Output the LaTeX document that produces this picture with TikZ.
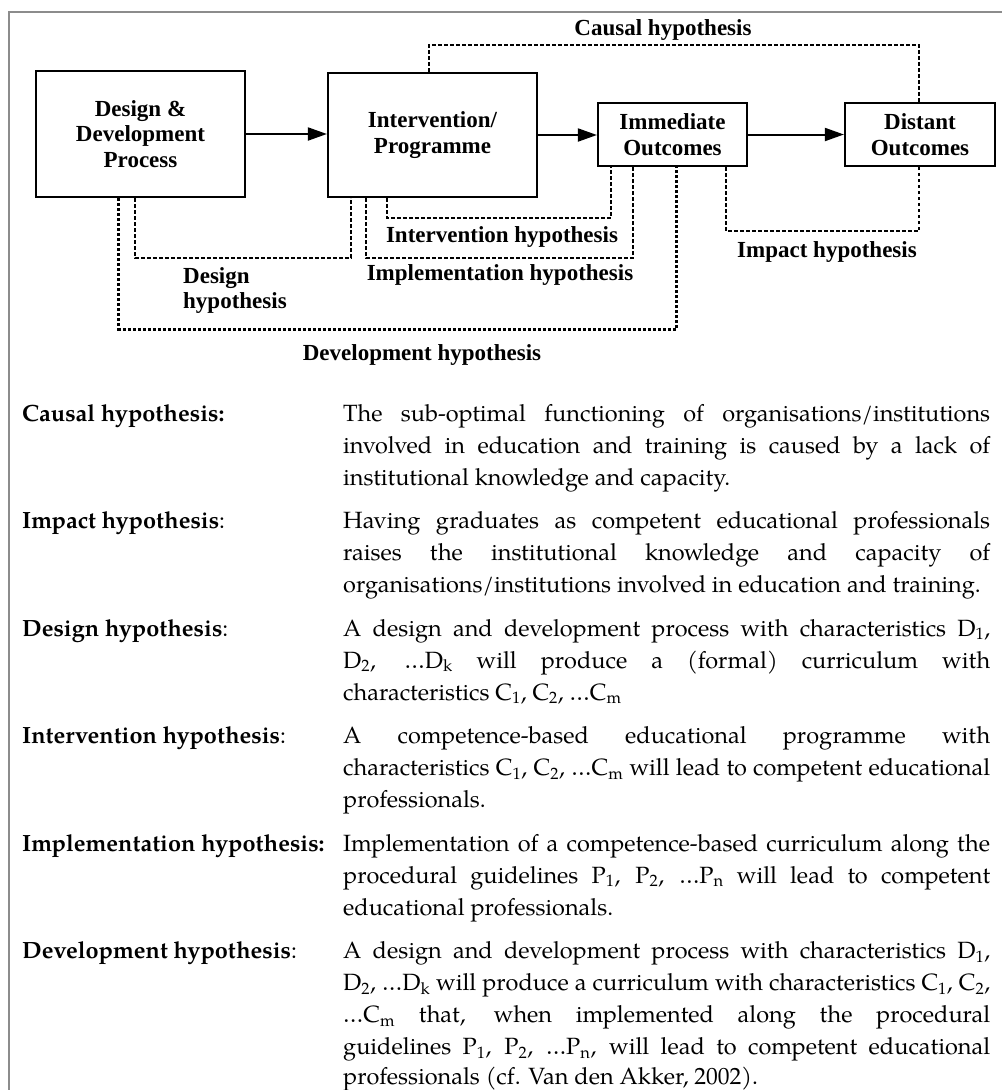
\documentclass[tikz,border=0pt]{standalone}
\usepackage{fontspec}
\usetikzlibrary{arrows.meta,calc}
\newfontfamily\dfont{Liberation Serif}
\newfontfamily\pfont{TeX Gyre Pagella}
\newcommand\jusline[1]{\makebox[647pt][s]{#1}}
\newcommand\sbs[1]{\textsubscript{#1}}
\begin{document}
\begin{tikzpicture}[x=1pt,y=-1pt,
  box/.style={draw, line width=2.2pt, inner sep=0pt, align=center, font=\dfont\bfseries\fontsize{23}{25.5}\selectfont},
  lab/.style={inner sep=0pt, font=\dfont\bfseries\fontsize{23}{25.5}\selectfont},
  hyp/.style={line width=2pt, dash pattern=on 3.7pt off 2.3pt},
  devhyp/.style={line width=3pt, dash pattern=on 3pt off 2pt},
  arr/.style={line width=2pt, -{Triangle[length=19pt,width=13pt]}},
  desc/.style={inner sep=0pt, anchor=base west, font=\pfont\fontsize{23.5}{32}\selectfont},
  dlab/.style={inner sep=0pt, anchor=base west, font=\pfont\bfseries\fontsize{23.5}{32}\selectfont},
  frame/.style={draw=black!45, line width=1.5pt}
]
\useasboundingbox (0,0) rectangle (1002,1090);
\fill[white] (0,0) rectangle (1002,1090);
\draw[frame] (9,1090) -- (9,12) -- (1002,12);

% boxes
\node[box, minimum width=209pt, minimum height=126pt] (b1) at (140.5,134) {Design \&\\Development\\Process};
\node[box, minimum width=209pt, minimum height=124pt] (b2) at (432.5,135) {Intervention/\\Programme};
\node[box, minimum width=149pt, minimum height=63pt] (b3) at (672.5,134.5) {Immediate\\Outcomes};
\node[box, minimum width=150pt, minimum height=63pt] (b4) at (920,134.5) {Distant\\Outcomes};

% arrows
\draw[arr] (b1.east) -- (b1.east -| b2.west);
\draw[arr] (b2.east) -- (b2.east -| b3.west);
\draw[arr] (b3.east) -- (b4.west);

% hypothesis connectors
\draw[hyp] ($(b1.south west)+(100,0)$) |- ($(b2.south west)+(24,60)$) -- ($(b2.south west)+(24,0)$);
\draw[hyp] ($(b2.south west)+(39,0)$) |- ($(b3.south west)+(36,91)$) -- ($(b3.south west)+(36,0)$);
\draw[hyp] ($(b2.south west)+(60,0)$) |- ($(b3.south west)+(14,51)$) -- ($(b3.south west)+(14,0)$);
\draw[devhyp] ($(b1.south west)+(84,0)$) |- ($(b3.south west)+(80,162)$) -- ($(b3.south west)+(80,0)$);
\draw[hyp] ($(b3.south west)+(129,0)$) |- ($(b4.south)+(-1,64)$) -- ($(b4.south)+(-1,0)$);
\draw[hyp] ($(b2.north west)+(102,0)$) |- ($(b4.north)+(-1,-57)$) -- ($(b4.north)+(-1,0)$);

% diagram labels
\node[lab, anchor=base] (lc) at (663,35) {Causal hypothesis};
\node[lab, anchor=base] (li) at (502,242) {Intervention hypothesis};
\node[lab, anchor=base] (lm) at (500,280) {Implementation hypothesis};
\node[lab, anchor=base] (lp) at (827,257) {Impact hypothesis};
\node[lab, anchor=base west] (ld1) at (183,283) {Design};
\node[lab, anchor=base west] (ld2) at (183,308) {hypothesis};
\node[lab, anchor=base] (lv) at (422,360) {Development hypothesis};

% text list
\node[dlab] (h1) at (22,421) {Causal hypothesis:};
\node[desc] (t11) at (343,421) {\jusline{The sub-optimal functioning of organisations/institutions}};
\node[desc] (t12) at (343,453) {\jusline{involved in education and training is caused by a lack of}};
\node[desc] (t13) at (343,485) {institutional knowledge and capacity.};

\node[dlab] (h2) at (22,528.5) {Impact hypothesis{\mdseries:}};
\node[desc] (t21) at (343,528.5) {\jusline{Having graduates as competent educational professionals}};
\node[desc] (t22) at (343,560.5) {\jusline{raises the institutional knowledge and capacity of}};
\node[desc] (t23) at (343,592.5) {organisations/institutions involved in education and training.};

\node[dlab] (h3) at (22,636) {Design hypothesis{\mdseries:}};
\node[desc] (t31) at (343,636) {\jusline{A design and development process with characteristics D\sbs{1},}};
\node[desc] (t32) at (343,668) {\jusline{D\sbs{2}, …D\sbs{k} will produce a (formal) curriculum with}};
\node[desc] (t33) at (343,700) {characteristics C\sbs{1}, C\sbs{2}, …C\sbs{m}};

\node[dlab] (h4) at (22,743.5) {Intervention hypothesis{\mdseries:}};
\node[desc] (t41) at (343,743.5) {\jusline{A competence-based educational programme with}};
\node[desc] (t42) at (343,775.5) {\jusline{characteristics C\sbs{1}, C\sbs{2}, …C\sbs{m} will lead to competent educational}};
\node[desc] (t43) at (343,807.5) {professionals.};

\node[dlab] (h5) at (22,851) {Implementation hypothesis:};
\node[desc] (t51) at (343,851) {\jusline{Implementation of a competence-based curriculum along the}};
\node[desc] (t52) at (343,883) {\jusline{procedural guidelines P\sbs{1}, P\sbs{2}, …P\sbs{n} will lead to competent}};
\node[desc] (t53) at (343,915) {educational professionals.};

\node[dlab] (h6) at (22,958.5) {Development hypothesis{\mdseries:}};
\node[desc] (t61) at (343,958.5) {\jusline{A design and development process with characteristics D\sbs{1},}};
\node[desc] (t62) at (343,990.5) {\jusline{D\sbs{2}, …D\sbs{k} will produce a curriculum with characteristics C\sbs{1}, C\sbs{2},}};
\node[desc] (t63) at (343,1022.5) {\jusline{…C\sbs{m} that, when implemented along the procedural}};
\node[desc] (t64) at (343,1054.5) {\jusline{guidelines P\sbs{1}, P\sbs{2}, …P\sbs{n}, will lead to competent educational}};
\node[desc] (t65) at (343,1084.5) {professionals (cf. Van den Akker, 2002).};
\end{tikzpicture}
\end{document}
